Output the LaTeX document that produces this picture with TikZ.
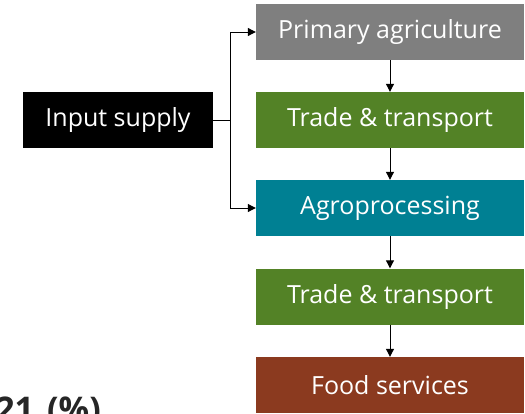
\documentclass[tikz,border=0pt]{standalone}
\usepackage{fontspec}
\setmainfont{Open Sans}
\usetikzlibrary{arrows.meta}
\definecolor{agrigray}{HTML}{7F7F7F}
\definecolor{agrigreen}{HTML}{538226}
\definecolor{agriteal}{HTML}{008093}
\definecolor{agribrown}{HTML}{8B3A1F}
\definecolor{sharegray}{HTML}{262626}
\begin{document}
\begin{tikzpicture}[x=1pt,y=-1pt,
  box/.style={minimum width=268pt, minimum height=56pt, inner sep=0pt, text=white,
    font=\fontsize{25}{30}\selectfont},
  arr/.style={-{Triangle[length=8pt,width=8pt]}, line width=1pt}]
  \useasboundingbox (0,0) rectangle (525,413);
  \node [box, fill=agrigray] (prim) at (390,32) {Primary agriculture};
  \node [box, fill=agrigreen] (trade1) at (390,120) {Trade \& transport};
  \node [box, fill=agriteal] (agro) at (390,208) {Agroprocessing};
  \node [box, fill=agrigreen] (trade2) at (390,296.5) {Trade \& transport};
  \node [box, fill=agribrown] (food) at (390,385) {Food services};
  \node [box, fill=black, minimum width=190pt] (inp) at (118,120) {Input supply};
  \coordinate (split) at (230,120);
  \draw [line width=1pt] (inp.east) -- (split);
  \draw [arr] (split) |- (prim.west);
  \draw [arr] (split) |- (agro.west);
  \foreach \a/\b in {prim/trade1, trade1/agro, agro/trade2, trade2/food}
  {
    \draw [arr] (\a) -- (\b);
  }
  \node [anchor=north east, inner sep=0pt, text=sharegray,
    font=\fontsize{34}{40}\selectfont\bfseries] (share) at (101,397) {21\hspace{13pt}(\%)};
\end{tikzpicture}
\end{document}
